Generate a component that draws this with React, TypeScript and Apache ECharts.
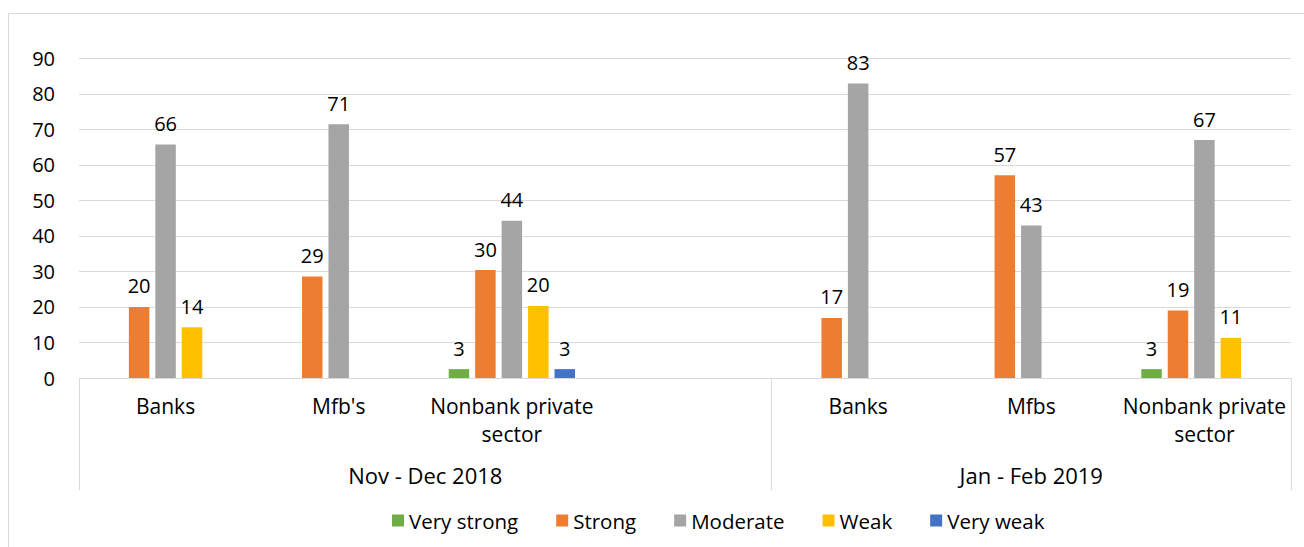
import React, { useEffect, useRef } from "react";
import * as echarts from "echarts";

const categories = ["Banks", "Mfb's", "Nonbank private\nsector", "", "Banks", "Mfbs", "Nonbank private\nsector"];
const periodLabels = ["Nov - Dec 2018", "Jan - Feb 2019"];
const periodCenters = [2, 5.5];
const periodBounds = [0, 4, 7];
const seriesNames = ["Very strong", "Strong", "Moderate", "Weak", "Very weak"];
const seriesColors = ["#70AD47", "#ED7D31", "#A5A5A5", "#FFC000", "#4472C4"];
const veryStrong = [null, null, 2.5, null, null, null, 2.5];
const strong = [20, 28.6, 30.4, null, 16.9, 57.1, 19];
const moderate = [65.7, 71.4, 44.3, null, 82.9, 42.9, 67];
const weak = [14.3, null, 20.3, null, null, null, 11.3];
const veryWeak = [null, null, 2.5, null, null, null, null];
const yTicks = { min: 0, max: 90, interval: 10 };

const FONT = "'Open Sans', 'Noto Sans', sans-serif";

export default function App() {
  const ref = useRef<HTMLDivElement>(null);
  useEffect(() => {
    document.body.style.margin = "0";
    if (!ref.current) return;
    const chart = echarts.init(ref.current, undefined, { renderer: "svg" });
    const values = [veryStrong, strong, moderate, weak, veryWeak];
    chart.setOption({
      animation: false,
      textStyle: { fontFamily: FONT },
      graphic: [
        {
          type: "rect",
          z: -10,
          silent: true,
          shape: { x: 8.5, y: 13.5, width: 1400, height: 600 },
          style: { fill: "none", stroke: "#d9d9d9", lineWidth: 1 },
        },
      ],
      grid: { left: 79, right: 13, top: 58.3, bottom: 169, containLabel: false },
      legend: {
        data: seriesNames,
        left: 387,
        top: 505,
        icon: "rect",
        itemWidth: 12,
        itemHeight: 12,
        itemGap: 38,
        textStyle: { fontFamily: FONT, fontSize: 20.5, color: "#000" },
      },
      xAxis: [
        {
          type: "category",
          data: categories,
          position: "bottom",
          axisTick: { show: false },
          axisLine: { show: true, lineStyle: { color: "#d9d9d9", width: 1 } },
          axisLabel: {
            interval: 0,
            margin: 13.5,
            fontFamily: FONT,
            fontSize: 21,
            lineHeight: 28,
            color: "#000",
          },
          splitLine: { show: false },
        },
        {
          type: "value",
          min: 0,
          max: 7,
          position: "bottom",
          axisLine: { show: false },
          splitLine: { show: false },
          axisTick: {
            show: true,
            customValues: periodBounds,
            length: 112,
            lineStyle: { color: "#d9d9d9", width: 1 },
          },
          axisLabel: {
            show: true,
            customValues: periodCenters,
            margin: 83,
            fontFamily: FONT,
            fontSize: 22,
            lineHeight: 28,
            color: "#000",
            formatter: (v: number) => periodLabels[periodCenters.indexOf(v)] ?? "",
          },
        },
      ],
      yAxis: {
        type: "value",
        min: yTicks.min,
        max: yTicks.max,
        interval: yTicks.interval,
        axisLine: { show: false },
        axisTick: { show: false },
        splitLine: { lineStyle: { color: "#d9d9d9", width: 1 } },
        axisLabel: { fontFamily: FONT, fontSize: 20, color: "#000", margin: 24 },
      },
      series: seriesNames.map((name, i) => ({
        name,
        type: "bar",
        xAxisIndex: 0,
        data: values[i],
        barWidth: 20.5,
        barGap: "29%",
        itemStyle: { color: seriesColors[i] },
        label: {
          show: true,
          position: "top",
          distance: 11,
          fontFamily: FONT,
          fontSize: 20,
          color: "#000",
          formatter: (p: any) => (p.value == null ? "" : String(Math.round(p.value))),
        },
      })),
    });
    return () => chart.dispose();
  }, []);
  return <div ref={ref} style={{ width: 1304, height: 547 }} />;
}
